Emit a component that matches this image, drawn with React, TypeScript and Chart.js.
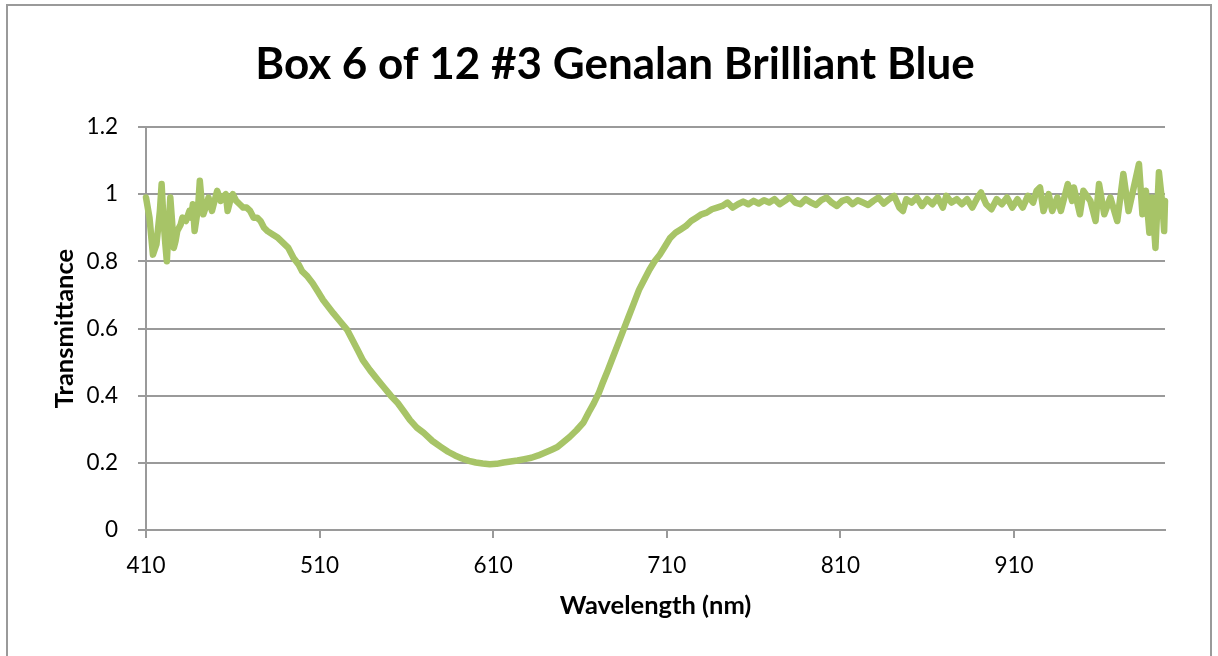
import { useEffect, useRef } from "react";
import { Chart, registerables } from "chart.js";

Chart.register(...registerables);

const TITLE = "Box 6 of 12 #3 Genalan Brilliant Blue";
const X_TITLE = "Wavelength (nm)";
const Y_TITLE = "Transmittance";
const X_TICKS = [410, 510, 610, 710, 810, 910];
const Y_TICKS = [0, 0.2, 0.4, 0.6, 0.8, 1, 1.2];
const X_MIN = 410;
const X_MAX = 997;

const WAVELENGTHS = [
  410, 412, 414, 416, 418, 419, 420, 421, 422, 423, 424, 425, 426, 427, 428, 430,
  431, 433, 435, 436, 437, 438, 440, 441, 442, 443, 445, 446, 448, 450, 451, 453,
  454, 456, 457, 459, 460, 462, 464, 466, 468, 470, 472, 474, 476, 478, 480,
  483, 486, 489, 492, 495, 498, 500, 503, 506, 509, 512, 515, 518, 522, 526, 529,
  532, 535, 539, 543, 547, 551, 555, 559, 562, 566, 570, 575, 580, 584, 588, 592,
  596, 600, 604, 608, 612, 616, 620, 624, 628, 632, 636, 640, 644, 647, 650, 654,
  658, 662, 665, 668, 671, 673, 676, 679, 682, 685, 688, 691, 694, 697, 700, 703,
  706, 709, 712, 715, 718, 721, 724, 727, 730, 733, 736, 739, 742, 745, 748, 751,
  754, 757, 760, 763, 766, 769, 772, 775, 778, 781, 784, 787, 790, 793, 796, 799,
  802, 805, 808, 811, 814, 817, 820, 823, 826, 829, 832, 835, 838, 841, 844, 846,
  848, 851, 854, 857, 860, 863, 866, 869, 871, 874, 877, 880, 883, 886, 889, 891,
  894, 897, 900, 903, 906, 909, 912, 915, 918, 921, 923, 925, 927, 930, 932, 935,
  937, 941, 943.5, 944.5, 948, 950, 954, 957, 959, 962, 965.5, 969.5, 973, 976,
  979, 982, 984, 986, 988, 989.5, 991.5, 993.5, 995.5, 996.5, 997,
];

const TRANSMITTANCE = [
  0.99, 0.93, 0.82, 0.85, 0.95, 1.03, 0.93, 0.86, 0.8, 0.9, 0.99, 0.92, 0.84, 0.86, 0.89, 0.91,
  0.93, 0.92, 0.95, 0.93, 0.97, 0.89, 0.96, 1.04, 0.98, 0.94, 0.97, 0.99, 0.95, 0.99, 1.01, 0.98,
  0.99, 1.0, 0.95, 0.99, 1.0, 0.98, 0.97, 0.96, 0.96, 0.95, 0.93, 0.93, 0.92, 0.9, 0.89,
  0.88, 0.87, 0.855, 0.84, 0.81, 0.79, 0.77, 0.755, 0.735, 0.71, 0.685, 0.665, 0.645, 0.62, 0.595, 0.565,
  0.535, 0.505, 0.476, 0.45, 0.425, 0.4, 0.378, 0.35, 0.328, 0.305, 0.289, 0.265, 0.247, 0.233, 0.222, 0.213,
  0.206, 0.201, 0.198, 0.196, 0.197, 0.201, 0.204, 0.207, 0.211, 0.215, 0.222, 0.231, 0.24, 0.247, 0.26, 0.277,
  0.297, 0.32, 0.35, 0.378, 0.41, 0.437, 0.475, 0.515, 0.555, 0.595, 0.635, 0.675, 0.715, 0.745, 0.775, 0.8,
  0.82, 0.845, 0.87, 0.885, 0.895, 0.905, 0.92, 0.93, 0.94, 0.945, 0.955, 0.96, 0.965, 0.975, 0.96, 0.97,
  0.978, 0.97, 0.98, 0.972, 0.982, 0.975, 0.985, 0.97, 0.98, 0.992, 0.975, 0.97, 0.985, 0.975, 0.968, 0.982,
  0.99, 0.975, 0.965, 0.98, 0.985, 0.97, 0.982, 0.975, 0.968, 0.98, 0.99, 0.972, 0.985, 0.995, 0.96, 0.95,
  0.985, 0.975, 0.99, 0.965, 0.985, 0.97, 0.99, 0.96, 0.995, 0.975, 0.985, 0.97, 0.985, 0.96, 0.99, 1.005,
  0.97, 0.955, 0.985, 0.97, 0.99, 0.96, 0.985, 0.96, 0.995, 0.975, 1.01, 1.02, 0.95, 1.0, 0.95, 0.99,
  0.95, 1.03, 0.98, 1.02, 0.94, 1.01, 0.98, 0.92, 1.03, 0.94, 0.99, 0.92, 1.06, 0.95,
  1.02, 1.09, 0.94, 1.01, 0.885, 0.99, 0.84, 1.065, 0.97, 0.89, 0.98,
];

const GRID = "#9a9a9a";
const LINE = "#a7c467";
const FONT = "Lato, 'Open Sans', sans-serif";

const framePlugin = {
  id: "frame",
  beforeDraw(chart: any) {
    const ctx = chart.ctx;
    ctx.save();
    ctx.fillStyle = "#ffffff";
    ctx.fillRect(0, 0, chart.width, chart.height);
    ctx.strokeStyle = GRID;
    ctx.lineWidth = 2;
    ctx.strokeRect(7, 5, 1204, 720);
    ctx.restore();
  },
};

export default function App() {
  const ref = useRef<HTMLCanvasElement | null>(null);

  useEffect(() => {
    if (!ref.current) return;
    const points = WAVELENGTHS.map((x, i) => ({ x, y: TRANSMITTANCE[i] }));
    const chart = new Chart(ref.current, {
      type: "line",
      data: {
        datasets: [
          {
            label: "Transmittance",
            data: points,
            borderColor: LINE,
            backgroundColor: LINE,
            borderWidth: 6.5,
            pointRadius: 0,
            tension: 0,
            borderCapStyle: "round",
            borderJoinStyle: "round",
            clip: false as any,
          },
        ],
      },
      options: {
        animation: false,
        responsive: false,
        devicePixelRatio: 1,
        layout: { padding: { left: 65, right: 53, top: 0, bottom: 0 } },
        plugins: {
          legend: { display: false },
          tooltip: { enabled: false },
          title: {
            display: true,
            text: TITLE,
            color: "#000",
            font: { family: FONT, size: 44, weight: "bold", lineHeight: 1.2 },
            padding: { top: 38.6, bottom: 35.6 },
          },
        },
        scales: {
          x: {
            type: "linear",
            min: X_MIN,
            max: X_MAX,
            afterBuildTicks: (scale: any) => {
              scale.ticks = X_TICKS.map((v) => ({ value: v }));
            },
            afterFit: (scale: any) => {
              scale.height = 126;
            },
            ticks: {
              autoSkip: false,
              maxRotation: 0,
              color: "#000",
              padding: 14,
              font: { family: FONT, size: 22.5, lineHeight: 1.2 },
              callback: (v: any) => String(v),
            },
            grid: {
              drawOnChartArea: false,
              drawTicks: true,
              tickLength: 8,
              color: GRID,
              lineWidth: 2,
            },
            border: { display: true, color: GRID, width: 2 },
            title: {
              display: true,
              text: X_TITLE,
              color: "#000",
              font: { family: FONT, size: 25.5, weight: "bold", lineHeight: 1.2 },
              padding: { top: 0, bottom: 34.7 },
            },
          },
          y: {
            type: "linear",
            min: 0,
            max: 1.2,
            afterBuildTicks: (scale: any) => {
              scale.ticks = Y_TICKS.map((v) => ({ value: v }));
            },
            afterFit: (scale: any) => {
              scale.width = 81;
            },
            ticks: {
              color: "#000",
              padding: 20,
              font: { family: FONT, size: 22.5, lineHeight: 1.2 },
              callback: (v: any) => String(Number(Number(v).toFixed(1))),
            },
            grid: {
              drawTicks: true,
              tickLength: 8,
              color: GRID,
              lineWidth: 2,
            },
            border: { display: true, color: GRID, width: 2 },
            title: {
              display: true,
              text: Y_TITLE,
              color: "#000",
              font: { family: FONT, size: 25.5, weight: "bold", lineHeight: 1.2 },
              padding: { top: -15.3, bottom: 0 },
            },
          },
        },
      },
      plugins: [framePlugin],
    });
    return () => chart.destroy();
  }, []);

  return (
    <div style={{ position: "fixed", left: 0, top: 0, width: 1218, height: 656, background: "#fff" }}>
      <canvas ref={ref} width={1218} height={656} style={{ display: "block" }} />
    </div>
  );
}
